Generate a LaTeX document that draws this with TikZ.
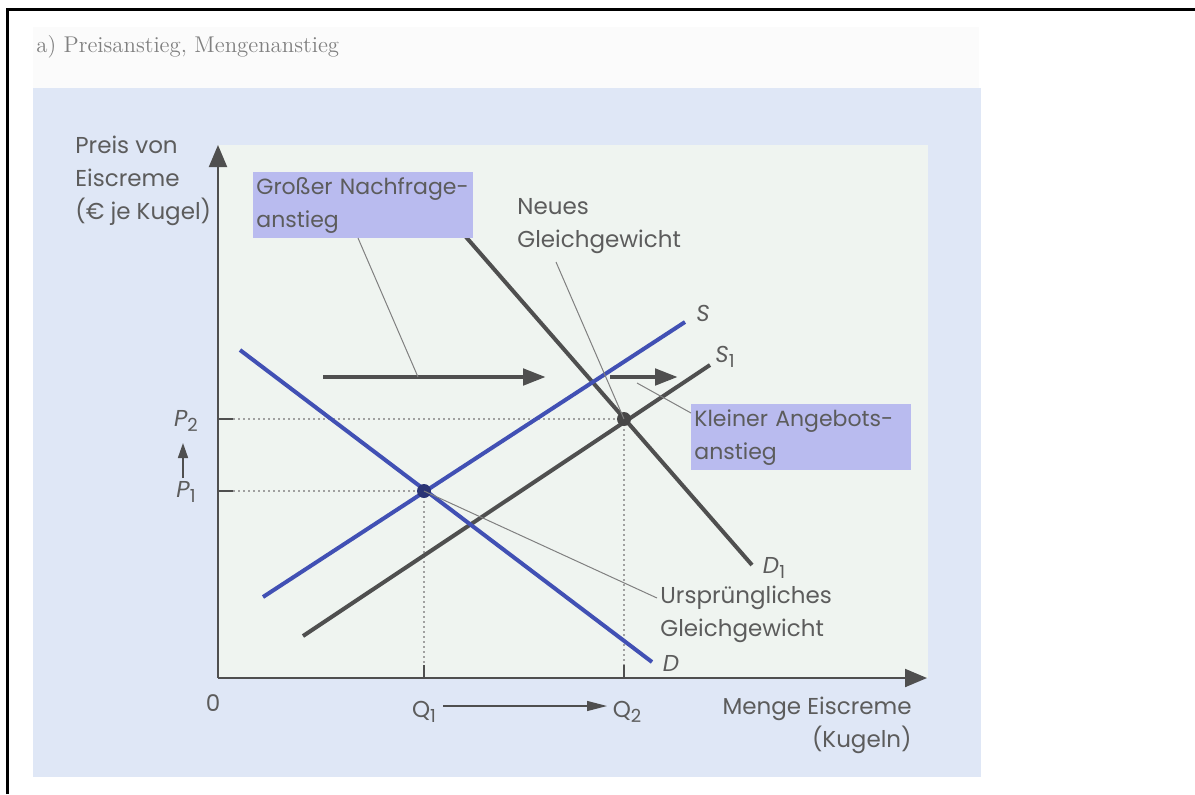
\documentclass[tikz,border=0pt]{standalone}
\usepackage{fontspec}
\newfontfamily\fut{Poppins}
\usetikzlibrary{arrows.meta}
\definecolor{txt}{HTML}{5C5C5C}
\definecolor{curveblue}{HTML}{4150B4}
\definecolor{curvegray}{HTML}{4F4F4F}
\definecolor{boxfill}{HTML}{B9BBEF}
\definecolor{outerbg}{HTML}{DFE7F6}
\definecolor{plotbg}{HTML}{EFF4F0}
\definecolor{headbg}{HTML}{FBFBFB}
\definecolor{dotgray}{HTML}{A0A0A0}
\newcommand\lowidx[1]{\raisebox{-0.45ex}{\upshape\fontsize{9}{9}\selectfont #1}}
\begin{document}
\begin{tikzpicture}[x=0.5pt,y=-0.5pt,
  every node/.style={font=\fut\fontsize{11.5}{16.5}\selectfont, text=txt, inner sep=0pt},
  axis/.style={draw=curvegray, line width=1pt, -{Triangle[length=11pt,width=9pt]}},
  bluecurve/.style={draw=curveblue, line width=2pt},
  graycurve/.style={draw=curvegray, line width=2pt},
  shiftarrow/.style={draw=curvegray, line width=2.4pt, -{Triangle[length=11.5pt,width=8pt]}},
  leader/.style={draw=gray, line width=0.5pt},
  guide/.style={draw=dotgray, line width=0.9pt, dash pattern=on 0.9pt off 1.6pt},
  tickmark/.style={draw=curvegray, line width=0.8pt},
  lbox/.style={fill=boxfill, align=left, anchor=north west, text width=107pt, minimum height=33pt, inner xsep=1.5pt,
    font=\fut\fontsize{11}{16.5}\selectfont},
  curvelab/.style={font=\fut\itshape\fontsize{11.5}{14}\selectfont},
  multiline/.style={align=left, anchor=north west}]
\useasboundingbox (0,0) rectangle (1195,794);
\fill[white] (0,0) rectangle (1195,794);

% background panels
\fill[headbg] (33,27) rectangle (979,88);
\fill[outerbg] (33,88) rectangle (981,777);
\fill[plotbg] (218,145) rectangle (928,678);

% outer frame
\draw[line width=1.5pt] (7,794) -- (7,9) -- (1195,9);

% heading
\node[anchor=west, font=\rmfamily\fontsize{11.4}{13}\selectfont, text=gray] (head) at (36,47) {a) Preisanstieg, Mengenanstieg};

% axes
\coordinate (O) at (218,678);
\coordinate (Ytip) at (218,145);
\coordinate (Xtip) at (927,678);
\draw[axis] (O) -- (Ytip);
\draw[axis] (O) -- (Xtip);
\node (zero) at (213,703) {0};

% axis titles
\node[multiline] (ytitle) at (75,136) {Preis von\\Eiscreme\\(€ je Kugel)};
\node[align=right, anchor=north east] (xtitle) at (912,697) {Menge Eiscreme\\(Kugeln)};

% equilibria
\coordinate (E1) at (424,491);
\coordinate (E2) at (624,419);

% guide lines to the axes
\coordinate (P1tick) at (233,491);
\coordinate (P1ax) at (218,491);
\coordinate (P2tick) at (233,419);
\coordinate (P2ax) at (218,419);
\coordinate (Q1tick) at (424,665);
\coordinate (Q1ax) at (424,678);
\coordinate (Q2tick) at (624,665);
\coordinate (Q2ax) at (624,678);
\draw[guide] (P1tick) -- (E1);
\draw[guide] (P2tick) -- (E2);
\draw[guide] (E1) -- (Q1tick);
\draw[guide] (E2) -- (Q2tick);
\draw[tickmark] (P1ax) -- (P1tick);
\draw[tickmark] (P2ax) -- (P2tick);
\draw[tickmark] (Q1ax) -- (Q1tick);
\draw[tickmark] (Q2ax) -- (Q2tick);

% price and quantity labels
\node (P2) at (186,421) {\itshape P\lowidx{2}};
\node (P1) at (186,492) {\itshape P\lowidx{1}};
\coordinate (Parrow0) at (183,478);
\coordinate (Parrow1) at (183,443);
\draw[draw=curvegray, line width=0.8pt, -{Triangle[length=7.5pt,width=5pt]}] (Parrow0) -- (Parrow1);
\node (Q1) at (424,712) {Q\lowidx{1}};
\node (Q2) at (627,712) {Q\lowidx{2}};
\coordinate (Qa0) at (443,706);
\coordinate (Qa1) at (607,706);
\draw[draw=curvegray, line width=0.6pt, -{Triangle[length=10pt,width=5pt]}] (Qa0) -- (Qa1);

% supply and demand curves
\coordinate (Da) at (240,350);  \coordinate (Db) at (652,662);
\coordinate (Sa) at (263,597);  \coordinate (Sb) at (685,322);
\coordinate (S1a) at (303,636); \coordinate (S1b) at (710,365);
\coordinate (D1a) at (466,237); \coordinate (D1b) at (752,565);
\draw[graycurve] (S1a) -- (S1b);
\draw[graycurve] (D1a) -- (D1b);
\draw[bluecurve] (Da) -- (Db);
\draw[bluecurve] (Sa) -- (Sb);
\node[curvelab] (Slab) at (703,313) {S};
\node[curvelab] (S1lab) at (725,357) {S\lowidx{1}};
\node[curvelab] (Dlab) at (671,663) {D};
\node[curvelab] (D1lab) at (774,568) {D\lowidx{1}};

% equilibrium points
\fill[curveblue!65!black] (E1) circle (3.5pt);
\fill[curvegray!90!black] (E2) circle (3.5pt);

% shift arrows
\coordinate (ba0) at (323,377); \coordinate (ba1) at (546,377);
\coordinate (sa0) at (610,377); \coordinate (sa1) at (678,377);
\draw[shiftarrow] (ba0) -- (ba1);
\draw[shiftarrow] (sa0) -- (sa1);

% annotation boxes
\node[lbox] (big) at (253,172) {Großer Nachfrage-\\anstieg};
\node[lbox] (small) at (691,404) {Kleiner Angebots-\\anstieg};
\coordinate (bigfoot) at (358,238);
\coordinate (bigend) at (418,377);
\draw[leader] (bigfoot) -- (bigend);
\coordinate (smallfoot) at (691,413);
\coordinate (smallend) at (637,383);
\draw[leader] (smallfoot) -- (smallend);

% equilibrium labels
\node[multiline] (neu) at (517,198) {Neues\\Gleichgewicht};
\coordinate (neufoot) at (556,262);
\draw[leader] (neufoot) -- (E2);
\node[multiline] (alt) at (660,586) {Ursprüngliches\\Gleichgewicht};
\coordinate (altfoot) at (657,598);
\draw[leader] (E1) -- (altfoot);
\end{tikzpicture}
\end{document}
